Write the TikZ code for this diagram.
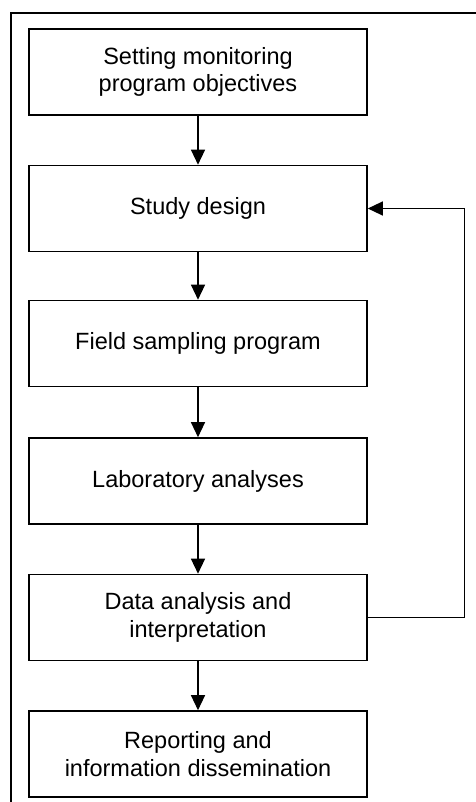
\documentclass[tikz,border=0pt]{standalone}
\usepackage{fontspec}
\setmainfont{Liberation Sans}
\usetikzlibrary{arrows.meta}
\begin{document}
\begin{tikzpicture}[x=1pt,y=-1pt,
  stagebox/.style={draw, line width=1.6pt, minimum width=338pt, minimum height=86pt,
    inner sep=0pt, align=center, font=\fontsize{23.5}{27.5}\selectfont},
  flow/.style={line width=1.3pt, -{Triangle[width=14pt,length=15pt]}}]
  \useasboundingbox (0,0) rectangle (475,802);
  % outer frame (only top and left edges fall inside the page)
  \draw[line width=1.5pt] (478,13) -- (11,13) -- (11,805);
  % process stages
  \node[stagebox] (obj)  at (198,72)    {Setting monitoring\\program objectives};
  \node[stagebox] (des)  at (198,208.5) {Study design};
  \node[stagebox] (fld)  at (198,343.5) {Field sampling program};
  \node[stagebox] (lab)  at (198,481)   {Laboratory analyses};
  \node[stagebox] (dat)  at (198,617.5) {Data analysis and\\interpretation};
  \node[stagebox] (rep)  at (198,754)   {Reporting and\\information dissemination};
  % forward flow
  \draw[flow] (obj) -- (des);
  \draw[flow] (des) -- (fld);
  \draw[flow] (fld) -- (lab);
  \draw[flow] (lab) -- (dat);
  \draw[flow] (dat) -- (rep);
  % feedback loop back to the study design
  \draw[flow] (dat.east) -- ++(97,0) |- (des.east);
\end{tikzpicture}
\end{document}
